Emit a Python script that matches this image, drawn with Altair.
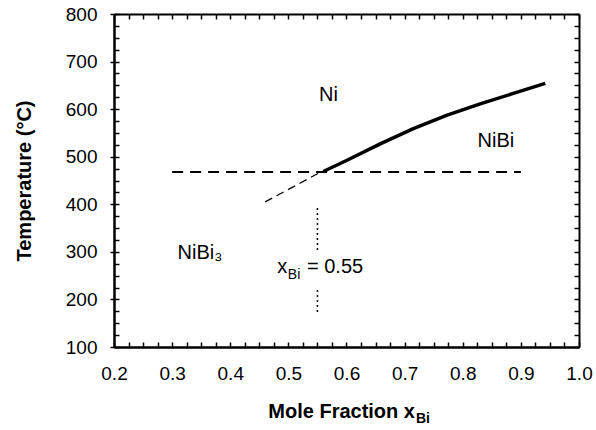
import altair as alt
import pandas as pd

# ---- data ----
x_bi = [0.56, 0.60, 0.658, 0.715, 0.772, 0.83, 0.887, 0.942]
temp_c = [469, 492, 527, 559, 587, 611, 633, 654]

eutectic_x = [0.30]
eutectic_x2 = [0.90]
eutectic_t = [468]

ext_x = [0.46, 0.556]
ext_t = [405, 468]

marker_x = [0.55, 0.55]
marker_t1 = [392, 220]
marker_t2 = [304, 171]

phase_names = ["Ni", "NiBi", "NiBi\u2083"]
phase_x = [0.569, 0.857, 0.348]
phase_t = [629, 532, 298]

note_parts = ["x", "Bi", "= 0.55"]
note_x = [0.481, 0.499, 0.532]
note_t = [255, 255, 255]

x_title_parts = ["Mole Fraction x", "Bi"]

x_tick_labels = [0.2, 0.3, 0.4, 0.5, 0.6, 0.7, 0.8, 0.9, 1.0]
y_tick_labels = [100, 200, 300, 400, 500, 600, 700, 800]
x_minor = [round(0.2 + 0.025 * i, 3) for i in range(33)]
y_minor = list(range(100, 825, 25))

W, H = 465, 333
FONT = "Liberation Sans"

curve = pd.DataFrame({"x": x_bi, "t": temp_c})
eut = pd.DataFrame({"x": eutectic_x, "x2": eutectic_x2, "t": eutectic_t})
ext = pd.DataFrame({"x": ext_x, "t": ext_t})
mark = pd.DataFrame({"x": marker_x, "t": marker_t1, "t2": marker_t2})
phases = pd.DataFrame({"label": phase_names, "x": phase_x, "t": phase_t})
note = pd.DataFrame({"label": note_parts, "x": note_x, "t": note_t})
xtitle = pd.DataFrame({"label": x_title_parts})

xs = alt.Scale(domain=[0.2, 1.0], nice=False, zero=False)
ys = alt.Scale(domain=[100, 800], nice=False, zero=False)

# main curve carries the labelled axes
main = alt.Chart(curve).mark_line(color="black", strokeWidth=3.5).encode(
    x=alt.X("x:Q", scale=xs, axis=alt.Axis(
        orient="bottom", values=x_tick_labels, format=".1f", ticks=False, tickSize=0,
        labelPadding=17, labelFontSize=19, labelFont=FONT, labelColor="black",
        domainColor="black", domainWidth=2, grid=False, title=None, labelFlush=False)),
    y=alt.Y("t:Q", scale=ys, axis=alt.Axis(
        orient="left", values=y_tick_labels, tickSize=4, tickWidth=1.5, tickColor="black",
        labelPadding=13, labelFontSize=19, labelFont=FONT, labelColor="black",
        domainColor="black", domainWidth=2, grid=False, title="Temperature (°C)",
        titleFont=FONT, titleFontSize=20, titleFontWeight="bold", titleColor="black",
        titlePadding=31, labelFlush=False)),
)

def tick_layer(channel, orient, offset, values):
    ax = alt.Axis(orient=orient, offset=offset, values=values, labels=False, tickSize=5,
                  tickWidth=1.5, tickColor="black", domainColor="black", domainWidth=2,
                  grid=False, title=None)
    if channel == "x":
        enc = dict(x=alt.X("x:Q", scale=xs, axis=ax), y=alt.Y("t:Q", scale=ys, axis=None))
    else:
        enc = dict(x=alt.X("x:Q", scale=xs, axis=None), y=alt.Y("t:Q", scale=ys, axis=ax))
    return alt.Chart(curve).mark_line(opacity=0).encode(**enc)

t_top = tick_layer("x", "bottom", -H, x_minor)
t_bottom = tick_layer("x", "top", -H, x_minor)
t_left = tick_layer("y", "right", -W, y_minor)
t_right = tick_layer("y", "left", -W, y_minor)

eut_line = alt.Chart(eut).mark_rule(color="black", strokeWidth=2, strokeDash=[11, 7]).encode(
    x=alt.X("x:Q", scale=xs, axis=None), x2="x2:Q", y=alt.Y("t:Q", scale=ys, axis=None))

ext_line = alt.Chart(ext).mark_line(color="black", strokeWidth=1.3, strokeDash=[8, 5]).encode(
    x=alt.X("x:Q", scale=xs, axis=None), y=alt.Y("t:Q", scale=ys, axis=None))

mark_line = alt.Chart(mark).mark_rule(color="black", strokeWidth=1.5, strokeDash=[2, 3]).encode(
    x=alt.X("x:Q", scale=xs, axis=None), y=alt.Y("t:Q", scale=ys, axis=None), y2="t2:Q")

phase_text = alt.Chart(phases).mark_text(font=FONT, fontSize=20, color="black",
                                         align="center", baseline="middle").encode(
    x=alt.X("x:Q", scale=xs, axis=None), y=alt.Y("t:Q", scale=ys, axis=None), text="label:N")

note_main = alt.Chart(note).transform_filter(alt.datum.label != "Bi").mark_text(
    font=FONT, fontSize=20, color="black", align="left", baseline="alphabetic").encode(
    x=alt.X("x:Q", scale=xs, axis=None), y=alt.Y("t:Q", scale=ys, axis=None), text="label:N")

note_sub = alt.Chart(note).transform_filter(alt.datum.label == "Bi").mark_text(
    font=FONT, fontSize=14, color="black", align="left", baseline="alphabetic", dy=6).encode(
    x=alt.X("x:Q", scale=xs, axis=None), y=alt.Y("t:Q", scale=ys, axis=None), text="label:N")

xtitle_main = alt.Chart(xtitle).transform_filter(alt.datum.label != "Bi").mark_text(
    font=FONT, fontSize=20, fontWeight="bold", color="black",
    align="right", baseline="alphabetic").encode(
    x=alt.value(301), y=alt.value(404), text="label:N")
xtitle_sub = alt.Chart(xtitle).transform_filter(alt.datum.label == "Bi").mark_text(
    font=FONT, fontSize=14, fontWeight="bold", color="black",
    align="left", baseline="alphabetic").encode(
    x=alt.value(302), y=alt.value(409), text="label:N")

chart = alt.layer(
    main, t_top, t_bottom, t_left, t_right,
    eut_line, ext_line, mark_line, phase_text, note_main, note_sub,
    xtitle_main, xtitle_sub,
).resolve_axis(x="independent", y="independent").properties(
    width=W, height=H,
    autosize=alt.AutoSizeParams(type="none"),
    padding={"left": 114, "top": 14, "right": 17, "bottom": 83},
    background="white",
).configure_view(stroke=None)

chart.save("out.html", embed_options={"renderer": "svg", "actions": False})
